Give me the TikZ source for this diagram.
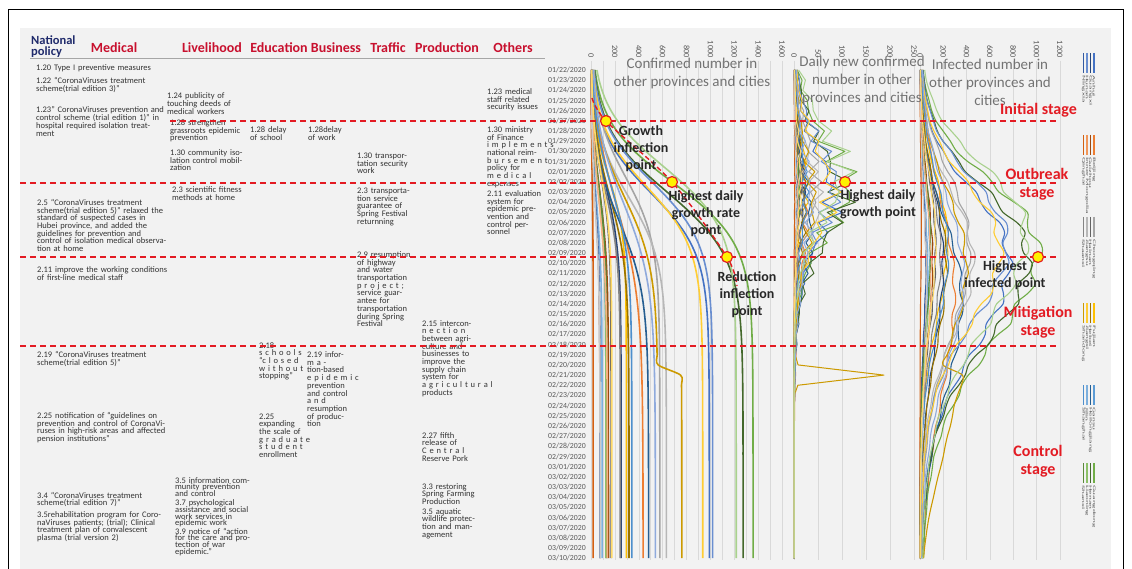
\documentclass[tikz,border=0pt]{standalone}
\usepackage{fontspec}
\usepackage{graphicx}
\setmainfont{Carlito}
\definecolor{c1}{HTML}{4472C4}\definecolor{c2}{HTML}{ED7D31}\definecolor{c3}{HTML}{A5A5A5}
\definecolor{c4}{HTML}{FFC000}\definecolor{c5}{HTML}{5B9BD5}\definecolor{c6}{HTML}{70AD47}
\definecolor{c7}{HTML}{264478}\definecolor{c8}{HTML}{9E480E}\definecolor{c9}{HTML}{636363}
\definecolor{c10}{HTML}{997300}\definecolor{c11}{HTML}{255E91}\definecolor{c12}{HTML}{43682B}
\definecolor{c13}{HTML}{698ED0}\definecolor{c14}{HTML}{F1975A}\definecolor{c15}{HTML}{B7B7B7}
\definecolor{c16}{HTML}{FFCD33}\definecolor{c17}{HTML}{7CAFDD}\definecolor{c18}{HTML}{8CC168}
\definecolor{c19}{HTML}{335AA1}\definecolor{c20}{HTML}{D26012}\definecolor{c21}{HTML}{848484}
\definecolor{c22}{HTML}{CC9A00}\definecolor{c23}{HTML}{4E8FCC}\definecolor{c24}{HTML}{5A8A39}
\definecolor{c25}{HTML}{8FAADC}\definecolor{c26}{HTML}{F4B183}\definecolor{c27}{HTML}{C9C9C9}
\definecolor{c28}{HTML}{FFD966}\definecolor{c29}{HTML}{A9D18E}
\definecolor{stagered}{HTML}{E31B23}
\definecolor{headred}{HTML}{C8102E}
\definecolor{navy}{HTML}{1F2A6B}
\definecolor{txt}{HTML}{333333}
\definecolor{axisgray}{HTML}{595959}
\definecolor{grid}{HTML}{D9D9D9}
\definecolor{panel}{HTML}{F2F2F2}
\newlength\jw
\newcommand\jl[1]{\makebox[\jw][s]{#1}}
\def\polfont{\fontsize{8.5}{7.7}\selectfont\lineskiplimit=-20pt\relax}
\def\tightfont{\fontsize{8.5}{6.8}\selectfont\lineskiplimit=-20pt\relax}
% index/total/midpoint/scale/lag/recovery scale/jump/jump day
\def\provdata{1/990/12/3/15/4.5/0/100, 2/436/13.5/4.5/17/6/0/100, 3/576/10.5/3.2/15/5/0/100,
  4/296/10.5/2.8/14/4/0/100, 5/125/12/3.5/12/4/0/100, 6/1356/11/3/15/5/0/100,
  7/252/11.5/3.2/16/4.5/0/100, 8/146/12/3.5/14/4/0/100, 9/168/10.5/3/15/4/0/100,
  10/318/12.5/3.5/14/4.5/0/100, 11/482/15/3.5/16/5/0/100, 12/1273/12/3.2/14/4.5/0/100,
  13/1018/11/3/13/4/0/100, 14/75/13/4/14/4/0/100, 15/631/12.5/3.2/13/4/0/100,
  16/935/11.5/3/13/4/0/100, 17/93/13/3.5/13/4/0/100, 18/125/12/3.2/13/4/0/100,
  19/75/13/3.5/12/4/0/100, 20/18/10/3/10/3/0/100, 21/245/12/3.2/13/4/0/100,
  22/560/12.5/3.5/14/4.5/200/29.5, 23/342/11.5/3.5/13/4/0/100, 24/133/11.5/3.2/12/4/0/100,
  25/539/13/4/15/5/0/100, 26/136/13/4/14/4/0/100, 27/76/14/4/16/5/0/100,
  28/174/10.5/3/14/4/0/100, 29/1215/9.5/3/15/5/0/100}

\begin{document}
\begin{tikzpicture}[x=1pt, y=-1pt,
  declare function={sig(\z)=1/(1+exp(min(9,max(-9,0-(\z)))));},
  policy/.style={anchor=base west, inner sep=0pt, text width={#1+30pt}, align=left, font=\polfont, text=txt,
    execute at begin node={\setlength{\jw}{#1}}},
  head/.style={anchor=base, inner sep=0pt, font=\fontsize{14}{14}\selectfont\bfseries, text=headred},
  datelab/.style={anchor=east, inner sep=0pt, font=\fontsize{7.8}{8}\selectfont, text=axisgray},
  ticklab/.style={anchor=east, rotate=-90, inner sep=0pt, font=\fontsize{8.3}{8}\selectfont, text=axisgray},
  gridline/.style={draw=grid, line width=0.6pt},
  conf/.style={line width=1.6pt, line join=round},
  daily/.style={line width=1pt, line join=round},
  active/.style={line width=1.1pt, line join=round},
  stageline/.style={draw=stagered, line width=1.3pt, dash pattern=on 6pt off 4pt},
  trend/.style={draw=stagered, line width=1.4pt, dash pattern=on 5pt off 3pt},
  infl/.style={circle, draw=stagered, fill=yellow, line width=1.2pt, minimum size=11pt, inner sep=0pt},
  note/.style={align=center, inner sep=0pt, font=\fontsize{14}{17}\selectfont\bfseries, text=black!85},
  stage/.style={align=center, inner sep=0pt, font=\fontsize{16}{18}\selectfont\bfseries, text=stagered},
  title/.style={align=center, inner sep=0pt, font=\fontsize{15}{18}\selectfont, text=black!55},
  legtext/.style={anchor=west, rotate=-90, inner sep=0pt, font=\fontsize{3.8}{3.8}\selectfont, text=axisgray}]
%%%%% START %%%%%
\useasboundingbox (0,0) rectangle (1132,569);
\fill[panel] (20,28) rectangle (1111,575);
\draw[line width=1pt] (8,10) rectangle (1123.5,600);

%%%%% HEADER %%%%%
\node[anchor=north west, align=left, inner sep=0pt, font=\fontsize{12.5}{11}\selectfont\bfseries, text=navy] (natpol) at (31,36) {National\\policy};
\node[head] (hmed) at (114,53) {Medical};
\node[head] (hliv) at (212,53) {Livelihood};
\node[head] (hedu) at (279,53) {Education};
\node[head] (hbus) at (336,53) {Business};
\node[head] (htra) at (388,53) {Traffic};
\node[head] (hpro) at (447,53) {Production};
\node[head] (hoth) at (513,53) {Others};
\draw[black!35, line width=1pt] (30,59) -- (545,59);

%%%%% MEDICAL %%%%%
\node[policy=129pt] (m1) at (36,70.5) {1.20 Type I preventive measures};
\node[policy=129pt] (m2) at (36,83.5) {1.22 “CoronaViruses treatment\\scheme(trial edition 3)”};
\node[policy=129pt] (m3) at (36,113) {\jl{1.23” CoronaViruses prevention and}\\\jl{control scheme (trial edition 1)” in}\\\jl{hospital required isolation treat-}\\ment};
\node[policy=129pt] (m4) at (37,205.5) {\jl{2.5 “CoronaViruses treatment}\\\jl{scheme(trial edition 5)” relaxed the}\\\jl{standard of suspected cases in}\\\jl{Hubei province, and added the}\\\jl{guidelines for prevention and}\\\jl{control of isolation medical observa-}\\tion at home};
\node[policy=129pt] (m5) at (37,272.5) {2.11 improve the working conditions\\of first-line medical staff};
\node[policy=129pt] (m6) at (37,357.5) {\jl{2.19 “CoronaViruses treatment}\\scheme(trial edition 5)”};
\node[policy=129pt] (m7) at (37,418.5) {\jl{2.25 notification of “guidelines on}\\\jl{prevention and control of CoronaVi-}\\\jl{ruses in high-risk areas and affected}\\pension institutions”};
\node[policy=129pt] (m8) at (37,498) {\jl{3.4 “CoronaViruses treatment}\\scheme(trial edition 7)”};
\node[policy=129pt] (m9) at (37,517.5) {\jl{3.5rehabilitation program for Coro-}\\\jl{naViruses patients; (trial); Clinical}\\\jl{treatment plan of convalescent}\\plasma (trial version 2)};

%%%%% LIVELIHOOD %%%%%
\node[policy=80pt] (l1) at (167,99) {\jl{1.24 publicity of}\\\jl{touching deeds of}\\medical workers};
\node[policy=77pt] (l2) at (170,125.5) {\jl{1.28 strengthen}\\\jl{grassroots epidemic}\\prevention};
\node[policy=77pt] (l3) at (170,155.5) {1.30 community iso-\\lation control mobil-\\zation};
\node[policy=77pt] (l4) at (172,193) {2.3 scientific fitness\\methods at home};
\node[policy=78pt, font=\tightfont] (l5) at (175,483) {3.5 information com-\\\jl{munity prevention}\\and control};
\node[policy=78pt, font=\tightfont] (l6) at (175,505.5) {\jl{3.7 psychological}\\\jl{assistance and social}\\\jl{work services in}\\epidemic work};
\node[policy=78pt, font=\tightfont] (l7) at (175,534) {3.9 notice of “action\\\jl{for the care and pro-}\\\jl{tection of war}\\epidemic.”};

%%%%% EDUCATION, BUSINESS %%%%%
\node[policy=36pt] (e1) at (250,132.5) {\jl{1.28 delay}\\of school};
\node[policy=35pt] (e2) at (259,348) {2.18\\\jl{s c h o o l s}\\\jl{“c l o s e d}\\\jl{w i t h o u t}\\stopping”};
\node[policy=35pt] (e3) at (259,419) {2.25\\expanding\\\jl{the scale of}\\\jl{g r a d u a t e}\\\jl{s t u d e n t}\\enrollment};
\node[policy=45pt] (b1) at (308,132.5) {1.28delay\\of work};
\node[policy=41pt] (b2) at (307,357.5) {\jl{2.19 infor-}\\\jl{m a -}\\tion-based\\\jl{e p i d e m i c}\\\jl{prevention}\\\jl{and control}\\\jl{a n d}\\\jl{resumption}\\\jl{of produc-}\\tion};

%%%%% TRAFFIC %%%%%
\node[policy=50pt] (t1) at (357,158.5) {1.30 transpor-\\tation security\\work};
\node[policy=48pt] (t2) at (357,193.5) {2.3 transporta-\\\jl{tion service}\\\jl{guarantee of}\\\jl{Spring Festival}\\returnning};
\node[policy=48pt] (t3) at (357,257.5) {\jl{2.9 resumption}\\\jl{of highway}\\\jl{and water}\\\jl{transportation}\\\jl{p r o j e c t ;}\\\jl{service guar-}\\\jl{antee for}\\\jl{transportation}\\\jl{during Spring}\\Festival};

%%%%% PRODUCTION %%%%%
\node[policy=53pt] (p1) at (422,326) {\jl{2.15 intercon-}\\\jl{n e c t i o n}\\\jl{between agri-}\\\jl{culture and}\\\jl{businesses to}\\\jl{improve the}\\\jl{supply chain}\\\jl{system for}\\\jl{a g r i c u l t u r a l}\\products};
\node[policy=53pt] (p2) at (422,438) {\jl{2.27 fifth}\\\jl{release of}\\\jl{C e n t r a l}\\Reserve Pork};
\node[policy=53pt] (p3) at (422,489) {\jl{3.3 restoring}\\\jl{Spring Farming}\\Production};
\node[policy=53pt] (p4) at (422,514) {\jl{3.5 aquatic}\\\jl{wildlife protec-}\\\jl{tion and man-}\\agement};

%%%%% OTHERS %%%%%
\node[policy=58pt] (o1) at (487,94.5) {\jl{1.23 medical}\\\jl{staff related}\\security issues};
\node[policy=58pt] (o2) at (487,132.5) {\jl{1.30 ministry}\\\jl{of Finance}\\\jl{i m p l e m e n t s}\\\jl{national reim-}\\\jl{b u r s e m e n t}\\\jl{policy for}\\\jl{m e d i c a l}\\expenses};
\node[policy=58pt] (o3) at (487,196.5) {2.11 evaluation\\\jl{system for}\\\jl{epidemic pre-}\\\jl{vention and}\\\jl{control per-}\\sonnel};

%%%%% DATES %%%%%
\foreach \d [count=\i from 0] in {22,...,31}
  \node[datelab] (d\i) at (586,{70+10.17*\i}) {01/\d/2020};
\foreach \d [count=\i from 10] in {01,02,03,04,05,06,07,08,09,10,11,12,13,14,15,16,17,18,19,20,21,22,23,24,25,26,27,28,29}
  \node[datelab] (d\i) at (586,{70+10.17*\i}) {02/\d/2020};
\foreach \d [count=\i from 39] in {01,02,03,04,05,06,07,08,09,10}
  \node[datelab] (d\i) at (586,{70+10.17*\i}) {03/\d/2020};

%%%%% AXES %%%%%
\foreach \k in {0,...,17}
  \draw[gridline] ({591+11.95*\k},61) -- ({591+11.95*\k},560);
\foreach \k in {0,...,5}
  \draw[gridline] ({794+24*\k},61) -- ({794+24*\k},560);
\foreach \k in {0,...,6}
  \draw[gridline] ({920+23.3*\k},61) -- ({920+23.3*\k},560);
\foreach \v [count=\k from 0] in {0,200,...,1600}
  \node[ticklab] (ta\k) at ({591+23.9*\k},58) {\v};
\foreach \v [count=\k from 0] in {0,50,...,250}
  \node[ticklab] (tb\k) at ({794+24*\k},58) {\v};
\foreach \v [count=\k from 0] in {0,200,...,1200}
  \node[ticklab] (tc\k) at ({920+23.3*\k},58) {\v};

%%%%% CURVES %%%%%
\foreach \i/\K/\tz/\sc/\lg/\sd/\J/\tj in \provdata {
  \draw[conf, c\i] plot[domain=0:48, samples=49, smooth]
    ({591+0.1195*(\K*sig((\x-\tz)/\sc)+\J*sig((\x-\tj)/0.15))}, {70+10.17*\x});
  \draw[daily, c\i] plot[domain=0:48, samples=49]
    ({794+0.48*(\K*(sig((\x-\tz)/\sc)-sig((\x-1-\tz)/\sc))*(1+0.3*sin(157*\x+47*\i))+\J*(sig((\x-\tj)/0.15)-sig((\x-1-\tj)/0.15)))}, {70+10.17*\x});
  \draw[active, c\i] plot[domain=0:48, samples=49, smooth]
    ({920+0.1165*(\K*(sig((\x-\tz)/\sc)-0.99*sig((\x-\tz-\lg)/\sd))*(1+0.05*sin(97*\x+31*\i))+\J*(sig((\x-\tj)/0.15)-sig((\x-\tj-12)/3)))}, {70+10.17*\x});
}

%%%%% TITLES %%%%%
\node[title] (tconf) at (692,74) {Confirmed number in\\other provinces and cities};
\node[title] (tdaily) at (862,81) {Daily new confirmed\\number in other\\provinces and cities};
\node[title] (tinf) at (990,82.5) {Infected number in\\other provinces and\\cities};

%%%%% STAGES %%%%%
\draw[stageline] (170,121) -- (1057,121);
\draw[stageline] (20,183) -- (1057,183);
\draw[stageline] (20,257) -- (1057,257);
\draw[stageline] (20,346) -- (1057,346);

\coordinate (trendtop) at (592,98);
\coordinate (growthpt) at (606,121);
\coordinate (ratept) at (672,182);
\coordinate (reducept) at (727,257);
\coordinate (trendend) at (737,286);
\draw[trend] plot[smooth] coordinates {(trendtop) (growthpt) (ratept) (reducept) (trendend)};
\node[infl] (growth) at (growthpt) {};
\node[infl] (peakrate) at (ratept) {};
\node[infl] (reduce) at (reducept) {};
\node[infl] (peakdaily) at (845,182) {};
\node[infl] (peakinf) at (1038,257) {};

\node[note] (growthlab) at (641,149) {Growth\\inflection\\point};
\node[note] (ratelab) at (706,214) {Highest daily\\growth rate\\point};
\node[note] (reducelab) at (747,295) {Reduction\\inflection\\point};
\node[note] (dailylab) at (878,204.5) {Highest daily\\growth point};
\node[note] (inflab) at (1005,275) {Highest\\infected point};

\node[stage, anchor=west] (initial) at (1000,110) {Initial stage};
\node[stage] (outbreak) at (1037,184) {Outbreak\\stage};
\node[stage] (mitigation) at (1038,322) {Mitigation\\stage};
\node[stage] (control) at (1038,461.5) {Control\\stage};

%%%%% LEGEND %%%%%
\foreach \gy/\na/\nb/\nc/\nd [count=\g] in {53/Anhui/Guangxi/Hunan/Ningxia, 135/Beijing/Guizhou/Inner Mongolia/Qinghai,
    217/Chongqing/Hainan/Jiangsu/Shaanxi, 303/Fujian/Hebei/Jiangxi/Shandong,
    385/Gansu/Heilongjiang/Jilin/Shanghai, 463/Guangdong/Henan/Liaoning/Shanxi} {
  \pgfmathtruncatemacro\ia{\g}
  \pgfmathtruncatemacro\ib{\g+6}
  \pgfmathtruncatemacro\ic{\g+12}
  \pgfmathtruncatemacro\id{\g+18}
  \draw[c\ia, line width=1.8pt] (1094,\gy) -- ++(0,20);
  \draw[c\ib, line width=1.8pt] (1090.5,\gy) -- ++(0,20);
  \draw[c\ic, line width=1.8pt] (1087,\gy) -- ++(0,20);
  \draw[c\id, line width=1.8pt] (1083.5,\gy) -- ++(0,20);
  \node[legtext] (lg\g-a) at (1094,{\gy+22}) {\scalebox{2.4}[1]{\na}};
  \node[legtext] (lg\g-b) at (1090.5,{\gy+22}) {\scalebox{2.4}[1]{\nb}};
  \node[legtext] (lg\g-c) at (1087,{\gy+22}) {\scalebox{2.4}[1]{\nc}};
  \node[legtext] (lg\g-d) at (1083.5,{\gy+22}) {\scalebox{2.4}[1]{\nd}};
}
%%%%% END %%%%%
\end{tikzpicture}
\end{document}
